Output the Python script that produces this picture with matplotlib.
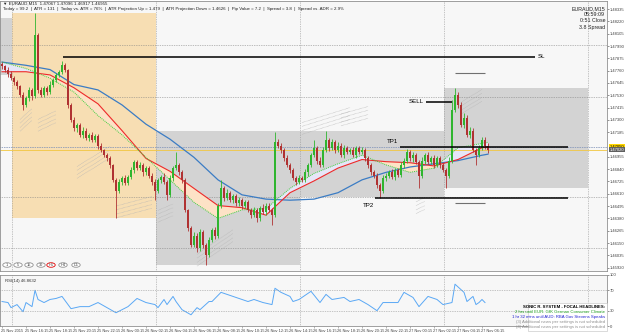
import numpy as np
import matplotlib.pyplot as plt
from matplotlib.patches import Rectangle, Circle
from datetime import datetime, timedelta

plt.rcParams['font.family'] = ['Liberation Sans', 'DejaVu Sans']

# EURAUD M15 closes (one per bar)
closes = [1.4780, 1.4777, 1.4773, 1.4769, 1.4765, 1.4762, 1.4753, 1.4744, 1.4750, 1.4758,
          1.4752, 1.4809, 1.4758, 1.4753, 1.4760, 1.4756, 1.4763, 1.4767, 1.4772, 1.4775,
          1.4781, 1.4777, 1.4744, 1.4730, 1.4722, 1.4725, 1.4716, 1.4720, 1.4713, 1.4716,
          1.4711, 1.4715, 1.4706, 1.4702, 1.4697, 1.4694, 1.4688, 1.4674, 1.4664, 1.4672,
          1.4676, 1.4671, 1.4677, 1.4683, 1.4691, 1.4685, 1.4688, 1.4681, 1.4685, 1.4678,
          1.4672, 1.4664, 1.4674, 1.4677, 1.4672, 1.4660, 1.4676, 1.4685, 1.4688, 1.4681,
          1.4674, 1.4646, 1.4629, 1.4613, 1.4622, 1.4610, 1.4625, 1.4613, 1.4604, 1.4618,
          1.4627, 1.4622, 1.4650, 1.4666, 1.4657, 1.4662, 1.4655, 1.4659, 1.4652, 1.4655,
          1.4650, 1.4653, 1.4646, 1.4641, 1.4646, 1.4638, 1.4648, 1.4644, 1.4650, 1.4646,
          1.4641, 1.4709, 1.4706, 1.4702, 1.4694, 1.4688, 1.4683, 1.4676, 1.4672, 1.4676,
          1.4674, 1.4681, 1.4688, 1.4697, 1.4704, 1.4692, 1.4688, 1.4702, 1.4711, 1.4704,
          1.4709, 1.4702, 1.4706, 1.4697, 1.4704, 1.4700, 1.4702, 1.4697, 1.4704, 1.4700,
          1.4702, 1.4694, 1.4688, 1.4681, 1.4678, 1.4669, 1.4664, 1.4676, 1.4678, 1.4681,
          1.4677, 1.4683, 1.4679, 1.4688, 1.4692, 1.4700, 1.4694, 1.4697, 1.4691, 1.4678,
          1.4692, 1.4697, 1.4691, 1.4694, 1.4688, 1.4694, 1.4688, 1.4683, 1.4678, 1.4692,
          1.4739, 1.4753, 1.4744, 1.4725, 1.4732, 1.4716, 1.4720, 1.4702, 1.4697, 1.4704,
          1.4711, 1.4706, 1.4702]

# wick lengths in pips above / below the body
up_wick = [2, 1, 2, 3, 2, 2, 1, 3, 2, 3,
           2, 21, 2, 3, 2, 2, 3, 2, 2, 2,
           4, 2, 1, 2, 3, 2, 2, 3, 2, 2,
           3, 2, 2, 2, 1, 2, 2, 1, 2, 3,
           2, 3, 2, 3, 2, 2, 3, 2, 2, 2,
           2, 3, 2, 2, 3, 2, 3, 2, 12, 2,
           2, 2, 1, 2, 3, 2, 3, 2, 2, 3,
           2, 3, 2, 8, 2, 3, 2, 2, 2, 3,
           2, 2, 2, 2, 3, 2, 2, 3, 2, 2,
           2, 10, 3, 2, 2, 3, 2, 2, 2, 3,
           2, 3, 2, 2, 7, 2, 3, 3, 9, 2,
           3, 2, 3, 2, 3, 2, 2, 3, 2, 2,
           3, 2, 2, 2, 2, 2, 2, 3, 2, 2,
           3, 2, 2, 3, 2, 3, 2, 3, 2, 2,
           3, 2, 3, 2, 3, 2, 2, 2, 2, 3,
           10, 7, 3, 3, 4, 3, 3, 2, 2, 3,
           3, 3, 2]
dn_wick = [2, 2, 3, 2, 2, 3, 2, 5, 2, 2,
           3, 2, 3, 2, 2, 3, 2, 2, 2, 2,
           2, 2, 3, 2, 2, 3, 2, 3, 2, 3,
           2, 2, 3, 2, 2, 2, 3, 2, 26, 2,
           3, 2, 2, 2, 3, 2, 2, 3, 2, 2,
           3, 9, 2, 3, 2, 5, 2, 3, 2, 2,
           3, 2, 3, 2, 2, 3, 2, 3, 10, 2,
           2, 3, 2, 2, 3, 2, 2, 3, 2, 2,
           3, 2, 2, 3, 2, 3, 2, 2, 3, 2,
           9, 2, 2, 3, 2, 2, 3, 2, 3, 2,
           2, 2, 3, 2, 2, 3, 2, 2, 2, 3,
           2, 3, 2, 2, 3, 2, 2, 2, 3, 2,
           2, 2, 3, 2, 2, 3, 7, 2, 3, 2,
           2, 3, 2, 2, 3, 2, 2, 3, 2, 12,
           2, 3, 2, 2, 3, 2, 3, 2, 12, 2,
           2, 2, 3, 2, 3, 2, 3, 2, 9, 2,
           2, 3, 3]

# moving averages read at every 8th bar
ma_bars = [0, 8, 16, 24, 32, 40, 48, 56, 64, 72, 80, 88, 96, 104, 112, 120, 128, 136, 144, 152, 160, 162]
ma_slow = [1.4784, 1.4781, 1.4777, 1.4763, 1.4758, 1.4744, 1.4726, 1.4712, 1.4695, 1.4674, 1.4660,
           1.4656, 1.4655, 1.4656, 1.4662, 1.4674, 1.4681, 1.4686, 1.4689, 1.4692, 1.4697, 1.4698]
ma_mid = [1.4775, 1.4775, 1.4772, 1.4760, 1.4745, 1.4720, 1.4694, 1.4682, 1.4666, 1.4650, 1.4648,
          1.4641, 1.4662, 1.4673, 1.4685, 1.4693, 1.4691, 1.4690, 1.4687, 1.4693, 1.4704, 1.4705]
ma_fast = [1.4784, 1.4778, 1.4769, 1.4756, 1.4734, 1.4716, 1.4695, 1.4674, 1.4653, 1.4638, 1.4646,
           1.4647, 1.4666, 1.4680, 1.4689, 1.4697, 1.4688, 1.4681, 1.4685, 1.4704, 1.4708, 1.4709]

# dotted envelope bands: first bar, last bar, mid price at start, mid price at end
band_first = [6, 12, 25, 38, 52, 65, 100, 113, 138, 153]
band_last = [10, 18, 36, 50, 57, 77, 116, 122, 141, 160]
band_p0 = [1.4725, 1.4725, 1.4681, 1.4644, 1.4640, 1.4599, 1.4722, 1.4730, 1.4648, 1.4741]
band_p1 = [1.4735, 1.4733, 1.4700, 1.4653, 1.4646, 1.4622, 1.4736, 1.4737, 1.4652, 1.4753]

# RSI(14) samples
rsi_bars = [0, 2, 3, 5, 7, 8, 10, 11, 12, 14, 16, 18, 20, 23, 26, 29, 32, 35, 38, 42, 45, 48, 51, 52,
            54, 55, 57, 58, 60, 63, 65, 66, 69, 70, 73, 75, 78, 82, 84, 87, 90, 91, 93, 96, 97, 99,
            103, 106, 108, 110, 114, 116, 119, 122, 125, 127, 132, 134, 137, 139, 142, 145, 147,
            150, 151, 154, 155, 157, 158, 159, 160, 161]
rsi_vals = [48, 46, 36, 42, 28, 46, 38, 70, 52, 46, 52, 54, 58, 34, 38, 38, 46, 36, 26, 38, 54, 46, 42, 36,
            52, 42, 58, 48, 32, 22, 36, 32, 48, 48, 66, 62, 56, 48, 52, 46, 42, 74, 66, 58, 48, 52,
            68, 46, 62, 52, 56, 48, 52, 42, 30, 46, 46, 66, 56, 38, 58, 52, 42,
            46, 82, 66, 48, 58, 42, 46, 52, 46]

# session boxes: start bar, end bar, high, low, colour
box_start = [-1, 3.33, 51.33, 99.33, 147.33]
box_end = [3.33, 51.33, 99.33, 147.33, 195.33]
box_high = [1.4825, 1.4830, 1.4720, 1.4720, 1.4760]
box_low = [1.4772, 1.4638, 1.4594, 1.4658, 1.4666]
box_color = ['#d3d3d3', '#f7deb3', '#d3d3d3', '#d3d3d3', '#d3d3d3']

# trade levels
level_names = ['SL', 'SELL', 'TP1', 'TP2']
level_prices = [1.4789, 1.4747, 1.4705, 1.4657]
level_from = [20.3, 141.3, 132.7, 124.3]
level_to = [177.7, 150, 188.7, 188.7]

W, H = 625, 336
Y0, Y1 = 1.458886, 1.484107
fig = plt.figure(figsize=(W / 100, H / 100), dpi=100)
fig.patch.set_facecolor('white')
bg = '#f7f7f7'

ax = fig.add_axes([0, 1 - 271 / H, 607 / W, 270 / H])
rx = fig.add_axes([0, 1 - 326 / H, 607 / W, 51 / H])
for a in (ax, rx):
    a.set_facecolor(bg)
    a.set_xlim(-0.67, 201.67)
    for s in a.spines.values():
        s.set_color('#909090')
        s.set_linewidth(0.6)
    for gx in [3.33, 51.33, 99.33, 147.33, 195.33]:
        a.axvline(gx, color='#909090', lw=0.5, ls=(0, (1, 1.5)), zorder=1)

ax.set_ylim(Y0, Y1)

for b0, b1, hi, lo, c in zip(box_start, box_end, box_high, box_low, box_color):
    ax.add_patch(Rectangle((b0, lo), b1 - b0, hi - lo, facecolor=c, edgecolor='none', zorder=0.5))

for gy in [1.47998, 1.47512, 1.47044, 1.46577, 1.46100]:
    ax.axhline(gy, color='#808080', lw=0.5, ls=(0, (1, 1.5)), zorder=1)

# envelope bands (four dotted strands each)
for b0, b1, p0, p1 in zip(band_first, band_last, band_p0, band_p1):
    for off in (-0.00055, -0.0002, 0.0002, 0.00055):
        ax.plot([b0, b1], [p0 + off, p1 + off], color='#b4b4b4', lw=0.45, ls=(0, (1, 1)), zorder=1.5)

close = np.array(closes)
open_ = np.concatenate([[close[0] + 0.0002], close[:-1]])
high = np.maximum(open_, close) + np.array(up_wick) * 1e-4
low = np.minimum(open_, close) - np.array(dn_wick) * 1e-4
idx = np.arange(len(close))
bull = close >= open_
cols = np.where(bull, '#2fb52f', '#b03232')

# moving averages and fill
mb = np.array(ma_bars)
mf, mm = np.array(ma_fast), np.array(ma_mid)
ax.fill_between(mb, mf, mm, where=mf <= mm, interpolate=True, color='#fde2c6', lw=0, zorder=2)
ax.fill_between(mb, mf, mm, where=mf > mm, interpolate=True, color='#e6e6f8', lw=0, zorder=2)
ax.plot(mb, ma_slow, color='#3b7cc4', lw=0.9, zorder=3)
ax.plot(mb, ma_mid, color='#ee2a2a', lw=0.8, zorder=3)
ax.plot(mb, ma_fast, color='#3fcf3f', lw=0.7, ls=(0, (1, 1)), zorder=3)

ax.vlines(idx, low, high, colors=cols, lw=0.6, zorder=4)
body = np.maximum(np.abs(close - open_), 0.00012)
ax.bar(idx, body, bottom=np.minimum(open_, close), width=0.65, color=cols, lw=0, zorder=4)

# bid / ask lines
ax.axhline(closes[-1], color='#f2c640', lw=0.6, zorder=2)
ax.axhline(closes[-1] + 0.0003, color='#7a9ad8', lw=0.5, ls=(0, (1, 1.5)), zorder=2)

# trade levels
for name, p, f, t in zip(level_names, level_prices, level_from, level_to):
    ax.hlines(p, f, t, color='black', lw=1.1, zorder=5)
ax.text(level_to[0] + 1, level_prices[0], 'SL', fontsize=4.4, va='center', ha='left')
ax.text(level_from[1] - 0.7, level_prices[1], 'SELL', fontsize=4.4, va='center', ha='right')
ax.text(level_from[2] - 2.5, level_prices[2] + 0.0005, 'TP1', fontsize=4.4, va='center', ha='center')
ax.text(level_from[3] - 2.0, level_prices[3] - 0.0007, 'TP2', fontsize=4.4, va='center', ha='center')
ax.hlines([1.4774, 1.4652], 151, 161, color='#707070', lw=0.8, zorder=5)

# price axis
ticks = [1.48335 - 0.00115 * k for k in range(22) if k != 11]
ax.yaxis.tick_right()
ax.set_yticks(ticks)
ax.set_yticklabels(['%.5f' % t for t in ticks])
ax.tick_params(axis='y', labelsize=3.0, length=1.5, width=0.4, pad=0.8, colors='#404040')
ax.set_xticks([])
for p, fc, tc in [(level_prices[2], '#ffd700', 'black'), (closes[-1], '#606060', 'white')]:
    ax.text(1.004, (p - Y0) / (Y1 - Y0), '%.5f' % p, transform=ax.transAxes, fontsize=3.0,
            va='center', ha='left', color=tc, bbox=dict(boxstyle='square,pad=0.12', fc=fc, ec='none'))

# RSI panel
rx.set_ylim(0, 100)
rx.plot(rsi_bars, rsi_vals, color='#5aa8f5', lw=0.7)
for lv in (70, 30):
    rx.axhline(lv, color='#909090', lw=0.5, ls=(0, (1, 1.5)))
rx.yaxis.tick_right()
rx.set_yticks([0, 30, 70, 100])
rx.set_yticklabels(['0', '30', '70', '100'])
rx.tick_params(axis='y', labelsize=3.0, length=1.5, width=0.4, pad=0.8, colors='#404040')
rx.text(0.008, 0.93, 'RSI(14) 46.8632', transform=rx.transAxes, fontsize=3.1, va='top', color='#303030')

# time axis: one label every 8 bars (2 hours)
last_time = datetime(2015, 11, 27, 6, 45)
tick_bars = list(range(0, 165, 8))
rx.set_xticks(tick_bars)
rx.set_xticklabels([])
rx.tick_params(axis='x', length=1.5, width=0.4, colors='#808080')
for i, b in enumerate(tick_bars):
    t = last_time - timedelta(minutes=15 * (162 - b))
    lab = '25 Nov 2015' if i == 0 else t.strftime('%d Nov %H:%M')
    rx.annotate(lab, (b, 0), xycoords=('data', 'axes fraction'), xytext=(-0.5, -2.5),
                textcoords='offset points', fontsize=2.8, va='top', ha='left',
                color='#404040', annotation_clip=False)

# header texts
fig.text(3 / W, 1 - 4 / H, '\u25bc EURAUD,M15  1.47067 1.47096 1.46917 1.46955', fontsize=3.2,
         va='center', color='#202020')
fig.text(3 / W, 1 - 9 / H, 'Today = 99.2  |  ATR = 131  |  Today vs. ATR = 76%  |  ATR Projection Up = 1.479  |  '
         'ATR Projection Down = 1.4626  |  Pip Value = 7.2  |  Spread = 3.8  |  Spread vs. ADR = 2.9%',
         fontsize=3.2, va='center', color='#202020')
for k, s in enumerate(['EURAUD,M15', '05:59:09', '0:51 Close', '3.8 Spread']):
    fig.text(605 / W, 1 - (9 + 6 * k) / H, s, fontsize=3.8, ha='right', va='center', color='#202020')

# timeframe buttons
btn_x = [7, 18, 29, 41, 51, 63, 76]
btn_lab = ['1', '5', '15', '30', 'H1', 'H4', 'D1']
for bx, bl in zip(btn_x, btn_lab):
    ec = '#e00000' if bl == 'H1' else '#909090'
    fig.patches.append(Circle((bx / W, 1 - 265 / H), 4.2 / W, transform=fig.transFigure,
                              fc='white', ec=ec, lw=0.6))
    fig.text(bx / W, 1 - 265 / H, bl, fontsize=2.8, ha='center', va='center', color='#404040')

# news box
fig.patches.append(Rectangle((528 / W, 1 - 331 / H), 79 / W, 28 / H, transform=fig.transFigure,
                             fc='white', ec='#c0c0c0', lw=0.4))
news = [('SONIC R. SYSTEM - FOCAL HEADLINES:', 'black', 'bold'),
        ('2 hrs until EUR: GfK German Consumer Climate', '#1a9a1a', 'normal'),
        ('1 hr 32 mins until AUD: RBA Gov Stevens Speaks', '#2020d0', 'normal'),
        ('(3) Additional news per settings is not scheduled', '#909090', 'normal'),
        ('(4) Additional news per settings is not scheduled', '#909090', 'normal')]
for k, (s, c, w) in enumerate(news):
    fig.text(605 / W, 1 - (307 + 5 * k) / H, s, fontsize=3.1, ha='right', va='center', color=c, weight=w)

fig.savefig('out.png', dpi=100, facecolor='white')
